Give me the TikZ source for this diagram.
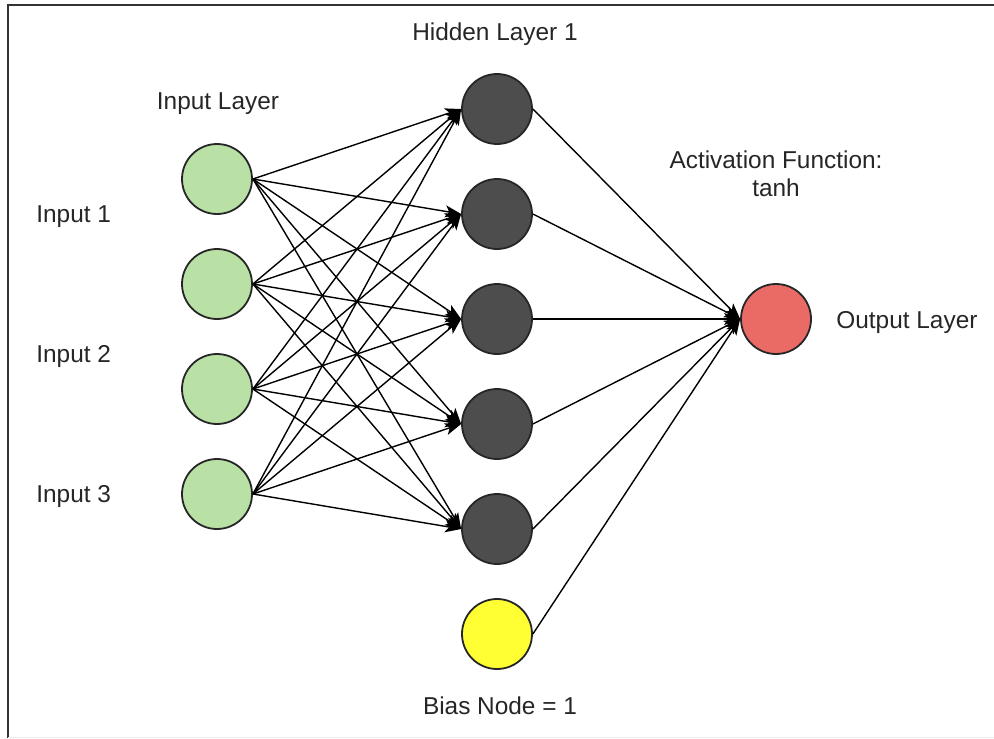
\documentclass[tikz,border=0pt]{standalone}
\usepackage{fontspec}
\setmainfont{Liberation Sans}
\usetikzlibrary{arrows.meta}

\definecolor{vertclair}{HTML}{B9E0A5}
\definecolor{grisfonce}{HTML}{4D4D4D}
\definecolor{rougeclair}{HTML}{EA6B66}
\definecolor{jaune}{HTML}{FFFF33}

\tikzset{
  neurone/.style={circle,draw=black!85,line width=0.9pt,minimum size=35pt,inner sep=0pt},
  fleche/.style={-{Stealth[length=8pt,width=6pt,inset=2pt]},line width=0.7pt},
  etiquette/.style={font=\fontsize{12.2pt}{14pt}\selectfont,text=black!85,inner sep=0pt}
}

\begin{document}
\begin{tikzpicture}[x=0.5pt,y=-0.5pt]

\useasboundingbox (0,0) rectangle (994,738);

% cadre
\draw[line width=1pt,black!80] (8,738) -- (8,5) -- (994,5);
\draw[line width=0.5pt,black!8] (8,737) -- (994,737);

% couche d'entree (en vert)
\foreach \i/\y in {1/179,2/284,3/389,4/494}
  \node[neurone,fill=vertclair] (e\i) at (217,\y) {};

% couche cachee
\foreach \j/\y in {1/109,2/214,3/319,4/424,5/529}
  \node[neurone,fill=grisfonce] (c\j) at (497,\y) {};

\node[neurone,fill=jaune] (b) at (497,634) {};
\node[neurone,fill=rougeclair] (s) at (776,319) {};

% connexions
\foreach \i in {1,...,4}
  \foreach \j in {1,...,5}
    \draw[fleche] (e\i.east) -- (c\j.west);

\foreach \j in {1,...,5}
  \draw[fleche] (c\j.east) -- (s.west);
\draw[fleche] (b.east) -- (s.west);

% textes
\node[etiquette] (tc) at (495,34) {Hidden Layer 1};
\node[etiquette] (te) at (218,104) {Input Layer};
\node[etiquette,align=center] (ta) at (776,174) {Activation Function:\\tanh};
\node[etiquette,anchor=west] (ts) at (836,323) {Output Layer};
\node[etiquette,anchor=west] (t1) at (36,217) {Input 1};
\node[etiquette,anchor=west] (t2) at (36,357) {Input 2};
\node[etiquette,anchor=west] (t3) at (36,497) {Input 3};
\node[etiquette] (tb) at (500,706) {Bias Node = 1};

\end{tikzpicture}
\end{document}
